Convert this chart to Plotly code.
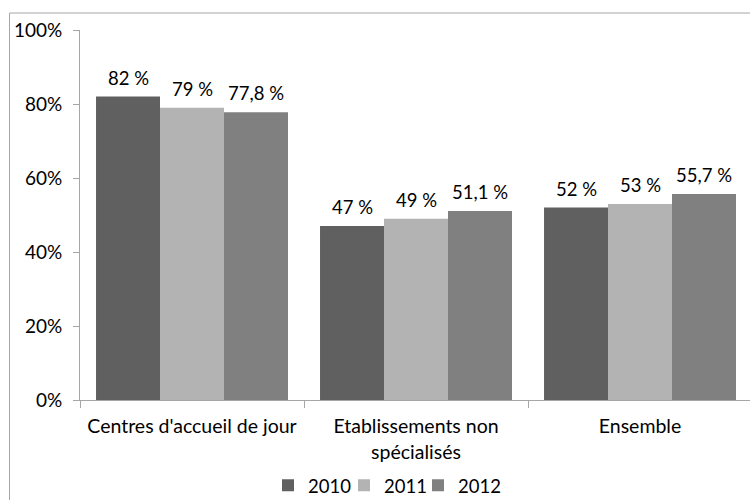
import plotly.graph_objects as go

categories = ["Centres d'accueil de jour", "Etablissements non<br>spécialisés", "Ensemble"]
years = ["2010", "2011", "2012"]
values_2010 = [0.82, 0.47, 0.52]
values_2011 = [0.79, 0.49, 0.53]
values_2012 = [0.778, 0.511, 0.557]
labels_2010 = ["82 %", "47 %", "52 %"]
labels_2011 = ["79 %", "49 %", "53 %"]
labels_2012 = ["77,8 %", "51,1 %", "55,7 %"]
colors = ["#606060", "#B3B3B3", "#808080"]

series = [values_2010, values_2011, values_2012]
labels = [labels_2010, labels_2011, labels_2012]

FONT = "Lato"
legend_ids = ["legend", "legend2", "legend3"]
legend_left_px = [268, 344, 418]

fig = go.Figure()
for yr, vals, col, lg in zip(years, series, colors, legend_ids):
    fig.add_trace(go.Bar(name=yr, x=categories, y=vals, marker=dict(color=col, line=dict(width=0)),
                         hoverinfo="skip", legend=lg))

# data labels as annotations anchored to bar positions
bar_px = 64
for i, (vals, labs) in enumerate(zip(series, labels)):
    for c, v, t in zip(categories, vals, labs):
        fig.add_annotation(x=c, y=v, text=t, showarrow=False, xref="x", yref="y",
                           xshift=(i - 1) * bar_px, yanchor="bottom", yshift=6,
                           font=dict(family=FONT, size=18.5, color="#000000"))

legend_common = dict(orientation="h", y=-0.232, xanchor="left", yanchor="middle",
                     font=dict(family=FONT, size=18.5), itemwidth=30,
                     bgcolor="rgba(0,0,0,0)")
legends = {}
for lg, px in zip(legend_ids, legend_left_px):
    legends[lg] = dict(legend_common, x=(px - 80) / 670)

fig.update_layout(
    width=750, height=500,
    margin=dict(l=80, r=0, t=30, b=100, autoexpand=False),
    paper_bgcolor="white", plot_bgcolor="white",
    barmode="group", bargap=0.143, bargroupgap=0,
    font=dict(family=FONT, size=18.5, color="#000000"),
    showlegend=True,
    xaxis=dict(range=[-0.5, 2.491], showline=True, linecolor="#A6A6A6", linewidth=1,
               ticks="outside", tickson="boundaries", ticklen=7, tickcolor="#A6A6A6",
               showgrid=False, tickfont=dict(family=FONT, size=19.5), automargin=False,
               ticklabelstandoff=9),
    yaxis=dict(range=[0, 1], tickformat=".0%", dtick=0.2, showline=True, linecolor="#A6A6A6",
               linewidth=1, ticks="outside", ticklen=6, tickcolor="#A6A6A6", showgrid=False,
               zeroline=False, tickfont=dict(family=FONT, size=19), ticklabelstandoff=7,
               automargin=False),
    **legends,
)

fig.add_shape(type="rect", xref="paper", yref="paper",
              x0=(9.5 - 80) / 670, x1=1.2, y0=-0.4, y1=1 + 17 / 370,
              line=dict(color="#A6A6A6", width=1), fillcolor="rgba(0,0,0,0)", layer="below")

fig.write_html("out.html", config={"displayModeBar": False},
               post_script="document.body.style.margin='0';document.body.style.overflow='hidden';")
